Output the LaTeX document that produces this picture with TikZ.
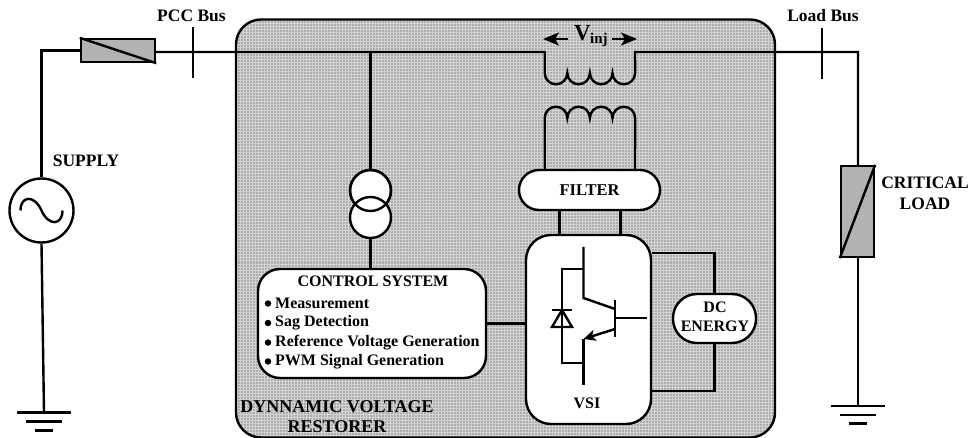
\documentclass[tikz,border=0pt]{standalone}
\usepackage{fontspec}
\setmainfont{Liberation Serif}
\usetikzlibrary{arrows.meta}
\tikzset{
  wire/.style={line width=2.4pt},
  pt/.style={inner sep=0pt,minimum size=0pt},
  panel/.style={draw,line width=2.4pt,fill=white,inner sep=0pt,align=center,font=\bfseries},
  elem/.style={draw,line width=2.4pt,fill=black!30,inner sep=0pt},
  ring/.style={circle,draw,line width=2.4pt,inner sep=0pt},
  lbl/.style={inner sep=0pt,align=center,font=\fontsize{16}{19.5}\selectfont\bfseries},
  biglbl/.style={inner sep=0pt,align=center,font=\fontsize{17.5}{21}\selectfont\bfseries},
  item/.style={inner sep=0pt,anchor=west,font=\fontsize{16}{18}\selectfont\bfseries},
  dot/.style={circle,fill=black,inner sep=0pt,minimum size=6.5pt},
  bigtip/.style={-{Stealth[length=16pt,width=13pt,inset=4pt]}},
}
\begin{document}
\begin{tikzpicture}[x=1pt,y=-1pt,node distance=20pt]
\useasboundingbox (0,0) rectangle (971,438);
\node[fill=black!32,rounded corners=25pt,minimum width=539pt,minimum height=418pt,inner sep=0pt,outer sep=0pt] (dvr) at (505.5,228.5) {};
\begin{scope}
\clip[rounded corners=25pt] (dvr.north west) rectangle (dvr.south east);
\draw[black!17,line width=1pt] (dvr.south west) grid[step=3pt] (dvr.north east);
\end{scope}
\draw[wire,rounded corners=25pt] (dvr.north west) rectangle (dvr.south east);
% supply side
\node[ring,minimum size=64pt] (src) at (41.5,210.5) {};
\node[elem,minimum width=74pt,minimum height=23pt] (fuse) at (118,50.5) {};
\node[pt,above of=src,node distance=160pt] (src_top) {};
\node[pt] (gnd1) at (44,412.5) {};
\node[pt,below of=gnd1,node distance=9pt] (gnd2) {};
\node[pt,below of=gnd2,node distance=9pt] (gnd3) {};
\node[pt,left of=gnd1,node distance=27pt] (gnd1_l) {};
\node[pt,right of=gnd1,node distance=27pt] (gnd1_r) {};
\node[pt,left of=gnd2,node distance=18pt] (gnd2_l) {};
\node[pt,right of=gnd2,node distance=18pt] (gnd2_r) {};
\node[pt,left of=gnd3,node distance=9pt] (gnd3_l) {};
\node[pt,right of=gnd3,node distance=9pt] (gnd3_r) {};
\node[pt] (pcc) at (193,52) {};
\node[pt,above of=pcc,node distance=25pt] (pcc_t) {};
\node[pt,below of=pcc,node distance=26pt] (pcc_b) {};
\node[biglbl] (pcc_lbl) at (191.5,16) {PCC Bus};
\node[biglbl] (supply) at (86,161) {SUPPLY};
% transformer and control
\node[ring,fill=white,minimum size=41pt] (xf1) at (370.5,190.5) {};
\node[ring,fill=white,minimum size=41pt] (xf2) at (370.5,217.5) {};
\draw[wire] (xf1.center) circle (20.5pt);
\node[pt] (tap) at (370.5,52) {};
\node[panel,rounded corners=22pt,minimum width=228pt,minimum height=109pt] (ctrl) at (372,323.5) {};
\node[lbl] (ctrl_lbl) at (373,281) {CONTROL SYSTEM};
\node[item] (it1) at (275,303.5) {Measurement};
\node[item] (it2) at (275,323) {Sag Detection};
\node[item] (it3) at (275,342.5) {Reference Voltage Generation};
\node[item] (it4) at (275,361.5) {PWM Signal Generation};
\node[dot] (d1) at (268,303.5) {};
\node[dot,below of=d1,node distance=19.5pt] (d2) {};
\node[dot,below of=d2,node distance=19.5pt] (d3) {};
\node[dot,below of=d3,node distance=19pt] (d4) {};
% injection transformer
\node[pt] (pri_l) at (544.7,52) {};
\node[pt,below of=pri_l,node distance=21pt] (pri_lb) {};
\node[pt] (pri_r) at (635,52) {};
\node[pt] (sec_l) at (544.7,118) {};
\node[pt] (sec_r) at (635,118) {};
\node[panel,rounded corners=20pt,minimum width=141pt,minimum height=40pt,font=\fontsize{16.5}{19}\selectfont\bfseries] (filter) at (589.5,190) {FILTER};
\node[inner sep=0pt,font=\fontsize{23}{25}\selectfont\bfseries] (vinj) at (582.5,33) {V};
\node[inner sep=0pt,anchor=west,font=\fontsize{15}{17}\selectfont\bfseries] (inj) at (590,40) {inj};
\node[pt] (arr_l1) at (568,39) {};
\node[pt] (arr_l2) at (543,39) {};
\node[pt] (arr_r1) at (612,39) {};
\node[pt] (arr_r2) at (637,39) {};
\draw[wire,bigtip] (arr_l1.center) -- (arr_l2.center);
\draw[wire,bigtip] (arr_r1.center) -- (arr_r2.center);
% VSI
\node[panel,rounded corners=25pt,minimum width=125pt,minimum height=189pt] (vsi) at (588.5,329.5) {};
\node[lbl] (vsi_lbl) at (587,403) {VSI};
\node[pt] (c1) at (583.5,247) {};
\node[pt,below of=c1,node distance=22pt] (c2) {};
\node[pt,below of=c2,node distance=29pt] (c3) {};
\node[pt] (b_t) at (615,300) {};
\node[pt,below of=b_t,node distance=9pt] (b_c) {};
\node[pt,below of=b_t,node distance=18pt] (b_m) {};
\node[pt,below of=b_t,node distance=29pt] (b_e) {};
\node[pt,below of=b_t,node distance=37pt] (b_b) {};
\node[pt,right of=b_m,node distance=32pt] (b_g) {};
\node[pt] (e1) at (583.5,339) {};
\node[pt,below of=e1,node distance=24pt] (e2) {};
\node[pt,below of=e2,node distance=22pt] (e3) {};
\node[pt,left of=c2,node distance=21.5pt] (dd_t) {};
\node[pt,left of=e2,node distance=21.5pt] (dd_b) {};
\node[pt] (k) at (562,310) {};
\node[pt,left of=k,node distance=10pt] (k_l) {};
\node[pt,right of=k,node distance=10pt] (k_r) {};
\node[pt,below of=k_l,node distance=17pt] (a_l) {};
\node[pt,below of=k_r,node distance=17pt] (a_r) {};
\draw[wire] (c1.center) -- (c3.center) -- (b_c.center);
\draw[wire] (b_t.center) -- (b_b.center);
\draw[wire] (b_m.center) -- (b_g.center);
\draw[wire,-{Stealth[length=12pt,width=11pt,inset=3pt]}] (b_e.center) -- (e1.center);
\draw[wire] (e1.center) -- (e3.center);
\draw[wire] (c2.center) -- (dd_t.center) -- (dd_b.center) -- (e2.center);
\draw[wire] (k_l.center) -- (k_r.center);
\draw[wire] (k.center) -- (a_l.center) -- (a_r.center) -- cycle;
% DC side
\node[panel,rounded corners=24pt,minimum width=83pt,minimum height=49pt] (dc) at (714.5,318.5) {};
\node[lbl] (dc_lbl) at (715,307.5) {DC};
\node[lbl] (en_lbl) at (715,326.5) {ENERGY};
\node[pt] (dc_t) at (714.5,253) {};
\node[pt] (dc_b) at (714.5,391) {};
\draw[wire] (dc.north) -- (dc_t.center) -- (dc_t -| vsi.east);
\draw[wire] (dc.south) -- (dc_b.center) -- (dc_b -| vsi.east);
% load side
\node[elem,minimum width=33pt,minimum height=91pt] (load) at (857.5,211.5) {};
\node[pt] (lb) at (822,52) {};
\node[pt,above of=lb,node distance=24pt] (lb_t) {};
\node[pt,below of=lb,node distance=27pt] (lb_b) {};
\node[pt] (corner) at (858,52) {};
\node[biglbl] (lb_lbl) at (823,16) {Load Bus};
\node[biglbl] (crit) at (925,193) {CRITICAL\\LOAD};
\node[pt] (gnd4) at (858,406) {};
\node[pt,below of=gnd4,node distance=9pt] (gnd5) {};
\node[pt,below of=gnd5,node distance=8.5pt] (gnd6) {};
\node[pt,left of=gnd4,node distance=27pt] (gnd4_l) {};
\node[pt,right of=gnd4,node distance=27pt] (gnd4_r) {};
\node[pt,left of=gnd5,node distance=18pt] (gnd5_l) {};
\node[pt,right of=gnd5,node distance=18pt] (gnd5_r) {};
\node[pt,left of=gnd6,node distance=9pt] (gnd6_l) {};
\node[pt,right of=gnd6,node distance=9pt] (gnd6_r) {};
\node[biglbl,font=\fontsize{18}{20}\selectfont\bfseries] (dvr_lbl) at (337,417) {DYNNAMIC VOLTAGE\\RESTORER};
% connections
\draw[wire] (src.north) -- (src_top.center) -- (fuse.west |- src_top);
\draw[wire] (fuse.north west) -- (fuse.south east);
\draw[wire] (fuse.east |- pcc) -- (pri_l.center) -- (pri_lb.center)
  arc[start angle=180,end angle=360,radius=11.3pt]
  arc[start angle=180,end angle=360,radius=11.3pt]
  arc[start angle=180,end angle=360,radius=11.3pt]
  arc[start angle=180,end angle=360,radius=11.3pt] -- (pri_r.center) -- (corner.center) -- (load.north -| corner);
\draw[wire] (filter.north -| sec_l) -- (sec_l.center)
  arc[start angle=180,end angle=0,radius=11.3pt]
  arc[start angle=180,end angle=0,radius=11.3pt]
  arc[start angle=180,end angle=0,radius=11.3pt]
  arc[start angle=180,end angle=0,radius=11.3pt] -- (filter.north -| sec_r);
\node[pt] (fv_l) at (559.5,222) {};
\node[pt] (fv_r) at (620.5,222) {};
\draw[wire] (fv_l |- filter.south) -- (fv_l |- vsi.north);
\draw[wire] (fv_r |- filter.south) -- (fv_r |- vsi.north);
\draw[wire] (pcc_t.center) -- (pcc_b.center);
\draw[wire] (lb_t.center) -- (lb_b.center);
\draw[wire] (tap.center) -- (xf1.north);
\draw[wire] (xf2.south) -- (xf2.south |- ctrl.north);
\draw[wire] (ctrl.east) -- (vsi.west |- ctrl.east);
\draw[wire] ([xshift=-21pt]src.center) .. controls +(0,-15) and +(-7,-16) .. ++(21,0) .. controls +(7,16) and +(0,15) .. ++(21,0);
\draw[wire] (src.south) -- (gnd1.center);
\draw[wire] (load.south -| corner) -- (gnd4.center);
\draw[wire] (load.south west) -- (load.north east);
\draw[wire] (gnd1_l.center) -- (gnd1_r.center);
\draw[wire] (gnd2_l.center) -- (gnd2_r.center);
\draw[wire] (gnd3_l.center) -- (gnd3_r.center);
\draw[wire] (gnd4_l.center) -- (gnd4_r.center);
\draw[wire] (gnd5_l.center) -- (gnd5_r.center);
\draw[wire] (gnd6_l.center) -- (gnd6_r.center);
\end{tikzpicture}
\end{document}
